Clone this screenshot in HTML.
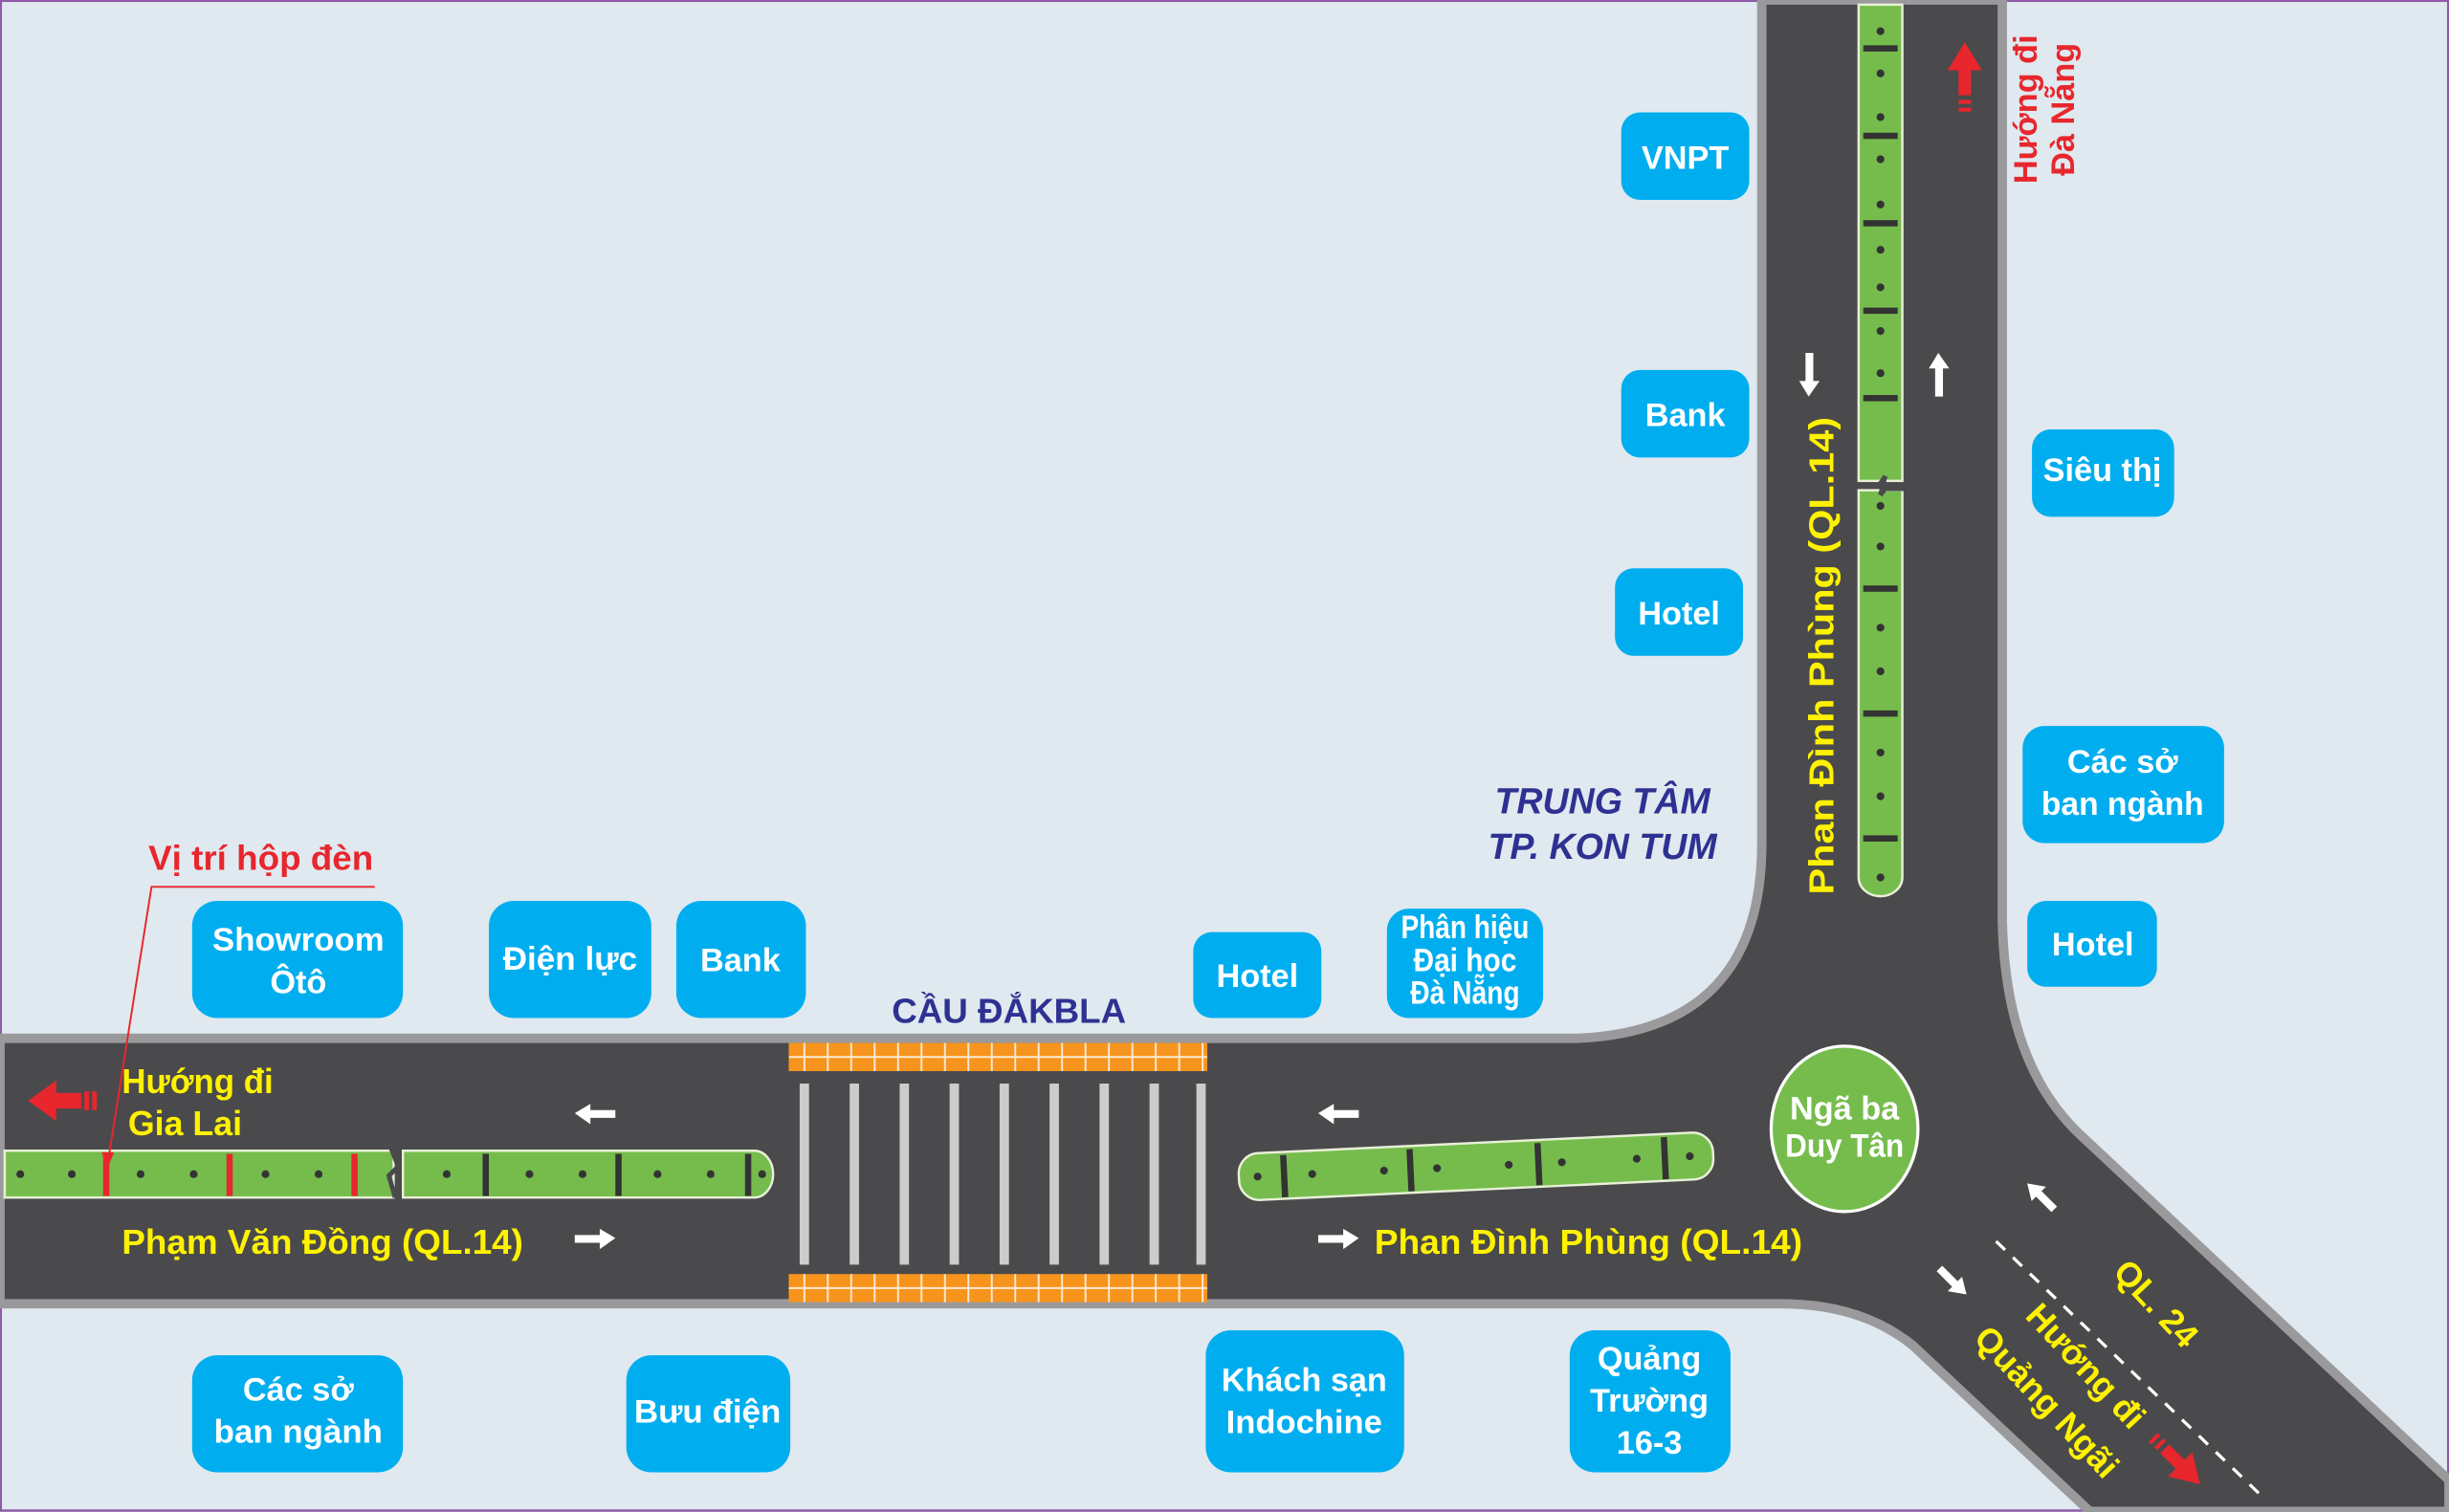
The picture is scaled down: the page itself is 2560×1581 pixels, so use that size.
<!DOCTYPE html>
<html><head><meta charset="utf-8"><style>
html,body{margin:0;padding:0;background:#dfe9ef}
svg{display:block}
text{font-family:"Liberation Sans",sans-serif;font-weight:bold}
.b{fill:#00aeef}
.w{fill:#fff;font-size:21px;text-anchor:middle}
.y{fill:#fff200;font-size:22px}
</style></head><body>
<svg width="2560" height="1581" viewBox="0 0 1568 968.4" preserveAspectRatio="none" xmlns="http://www.w3.org/2000/svg">
<rect x="0.5" y="0.5" width="1567" height="967" fill="#dfe9ef" stroke="#8e5aa6" stroke-width="1.5"/>
<path d="M0,665 L1010,665 Q1128,660 1128,540 L1128,0 L1282,0 L1282,590 Q1284,680 1330,725 L1568,948 L1568,968 L1338,968 L1225,862 Q1192,835 1140,835 L0,835 Z" fill="#4a4a4c" stroke="#9a9a9c" stroke-width="6"/>
<rect x="505" y="668" width="268" height="18" fill="#f7941d"/>
<rect x="505" y="816" width="268" height="18" fill="#f7941d"/>
<g stroke="#fff" stroke-width="1.2" opacity="0.8">
<path d="M505,677H773M505,825H773"/>
<path d="M515,668v18M530,668v18M545,668v18M560,668v18M575,668v18M590,668v18M605,668v18M620,668v18M635,668v18M650,668v18M665,668v18M680,668v18M695,668v18M710,668v18M725,668v18M740,668v18M755,668v18M770,668v18"/>
<path d="M515,816v18M530,816v18M545,816v18M560,816v18M575,816v18M590,816v18M605,816v18M620,816v18M635,816v18M650,816v18M665,816v18M680,816v18M695,816v18M710,816v18M725,816v18M740,816v18M755,816v18M770,816v18"/>
</g>
<g fill="#ccc"><rect x="512" y="694" width="6" height="116"/><rect x="544" y="694" width="6" height="116"/><rect x="576" y="694" width="6" height="116"/><rect x="608" y="694" width="6" height="116"/><rect x="640" y="694" width="6" height="116"/><rect x="672" y="694" width="6" height="116"/><rect x="704" y="694" width="6" height="116"/><rect x="736" y="694" width="6" height="116"/><rect x="766" y="694" width="6" height="116"/></g>
<g stroke="#e8f0d8" stroke-width="1.5" fill="#76bc4d">
<rect x="3" y="737" width="249" height="30"/>
<path d="M258,737 H483 A12,15 0 0 1 483,767 H258 Z"/>
</g>
<path d="M254,737 l-3,0 l4,10 l-6,6 l4,14" stroke="#4a4a4c" stroke-width="3" fill="none"/>
<g fill="#e8262d"><rect x="66" y="739" width="4" height="27"/><rect x="145" y="739" width="4" height="27"/><rect x="225" y="739" width="4" height="27"/></g>
<g fill="#333"><rect x="309" y="739" width="4" height="27"/><rect x="394" y="739" width="4" height="27"/><rect x="477" y="739" width="4" height="27"/>
<circle cx="13" cy="752" r="2.5"/><circle cx="46" cy="752" r="2.5"/><circle cx="90" cy="752" r="2.5"/><circle cx="124" cy="752" r="2.5"/><circle cx="170" cy="752" r="2.5"/><circle cx="204" cy="752" r="2.5"/><circle cx="286" cy="752" r="2.5"/><circle cx="339" cy="752" r="2.5"/><circle cx="373" cy="752" r="2.5"/><circle cx="421" cy="752" r="2.5"/><circle cx="455" cy="752" r="2.5"/><circle cx="488" cy="752" r="2.5"/></g>
<g transform="rotate(-2.7 945 746)">
<rect x="793" y="732" width="304" height="30" rx="13" fill="#76bc4d" stroke="#e8f0d8" stroke-width="1.5"/>
<g fill="#333"><rect x="820" y="734" width="4" height="27"/><rect x="901" y="734" width="4" height="27"/><rect x="983" y="734" width="4" height="27"/><rect x="1064" y="734" width="4" height="27"/>
<circle cx="805" cy="747" r="2.5"/><circle cx="840" cy="747" r="2.5"/><circle cx="886" cy="747" r="2.5"/><circle cx="920" cy="747" r="2.5"/><circle cx="966" cy="747" r="2.5"/><circle cx="1000" cy="747" r="2.5"/><circle cx="1048" cy="747" r="2.5"/><circle cx="1082" cy="747" r="2.5"/></g></g>
<g fill="#76bc4d" stroke="#e8f0d8" stroke-width="1.5">
<rect x="1190" y="3" width="28" height="305"/>
<path d="M1190,314 H1218 V562 A14,12 0 0 1 1190,562 Z"/>
</g>
<path d="M1189,311 h14 l4,-6 l-3,12 l3,-4 h14" stroke="#4a4a4c" stroke-width="3" fill="none"/>
<g fill="#333">
<rect x="1193" y="29" width="22" height="4"/><rect x="1193" y="85" width="22" height="4"/><rect x="1193" y="141" width="22" height="4"/><rect x="1193" y="197" width="22" height="4"/><rect x="1193" y="253" width="22" height="4"/><rect x="1193" y="375" width="22" height="4"/><rect x="1193" y="455" width="22" height="4"/><rect x="1193" y="535" width="22" height="4"/>
<circle cx="1204" cy="20" r="2.5"/><circle cx="1204" cy="47" r="2.5"/><circle cx="1204" cy="75" r="2.5"/><circle cx="1204" cy="102" r="2.5"/><circle cx="1204" cy="131" r="2.5"/><circle cx="1204" cy="160" r="2.5"/><circle cx="1204" cy="184" r="2.5"/><circle cx="1204" cy="212" r="2.5"/><circle cx="1204" cy="239" r="2.5"/><circle cx="1204" cy="324" r="2.5"/><circle cx="1204" cy="350" r="2.5"/><circle cx="1204" cy="402" r="2.5"/><circle cx="1204" cy="430" r="2.5"/><circle cx="1204" cy="482" r="2.5"/><circle cx="1204" cy="510" r="2.5"/><circle cx="1204" cy="562" r="2.5"/></g>
<ellipse cx="1181" cy="723" rx="47" ry="53" fill="#76bc4d" stroke="#fff" stroke-width="2"/>
<text x="1181" y="717" class="w" font-size="18" textLength="70" lengthAdjust="spacingAndGlyphs">Ngã ba</text>
<text x="1181" y="741" class="w" font-size="18" textLength="76" lengthAdjust="spacingAndGlyphs">Duy Tân</text>
<path d="M1278,795 L1450,960" stroke="#fff" stroke-width="2" stroke-dasharray="8,7"/>
<g fill="#fff">
<path d="M368,713 l10,-6 v4 h16 v5 h-16 v4 z"/>
<path d="M844,713 l10,-6 v4 h16 v5 h-16 v4 z"/>
<path d="M394,793 l-10,-6 v4 h-16 v5 h16 v4 z"/>
<path d="M870,793 l-10,-6 v4 h-16 v5 h16 v4 z"/>
<path d="M1158,254 l-6,-10 h4 v-18 h5 v18 h4 z"/>
<path d="M1241,226 l-6,10 h4 v18 h5 v-18 h4 z"/>
<g transform="rotate(-45 1305 765)"><path d="M1305,755 l-6,10 h4 v14 h5 v-14 h4 z"/></g>
<g transform="rotate(135 1252 822)"><path d="M1252,812 l-6,10 h4 v14 h5 v-14 h4 z"/></g>
</g>
<g fill="#e8262d">
<path d="M18,705 l18,-13 v8 h16 v10 h-16 v8 z"/><rect x="54" y="699" width="3" height="12"/><rect x="59" y="699" width="3" height="12"/>
<path d="M1258,27 l-11,18 h7 v16 h8 v-16 h7 z"/><rect x="1254" y="64" width="8" height="2.5"/><rect x="1254" y="69" width="8" height="2.5"/>
<g transform="rotate(135 1398 940)"><path d="M1398,925 l-11,18 h7 v14 h8 v-14 h7 z"/><rect x="1394" y="960" width="8" height="2.5"/><rect x="1394" y="965" width="8" height="2.5"/></g>
</g>
<text x="78" y="700" class="y" font-size="21" textLength="97" lengthAdjust="spacingAndGlyphs">Hướng đi</text>
<text x="82" y="727" class="y" font-size="21" textLength="73" lengthAdjust="spacingAndGlyphs">Gia Lai</text>
<text x="78" y="803" class="y" textLength="257" lengthAdjust="spacingAndGlyphs">Phạm Văn Đồng (QL.14)</text>
<text x="880" y="803" class="y" textLength="274" lengthAdjust="spacingAndGlyphs">Phan Đình Phùng (QL.14)</text>
<text transform="translate(1174,420) rotate(-90)" class="y" text-anchor="middle" textLength="306" lengthAdjust="spacingAndGlyphs">Phan Đình Phùng (QL.14)</text>
<text transform="translate(1375,840) rotate(47)" class="y" text-anchor="middle">QL. 24</text>
<text transform="translate(1330,880) rotate(47)" class="y" text-anchor="middle">Hướng đi</text>
<text transform="translate(1305,903) rotate(47)" class="y" text-anchor="middle">Quảng Ngãi</text>
<text transform="translate(1304,70) rotate(-90)" fill="#e8262d" font-size="21" text-anchor="middle">Hướng đi</text>
<text transform="translate(1328,70) rotate(-90)" fill="#e8262d" font-size="21" text-anchor="middle">Đà Nẵng</text>
<text x="95" y="557" fill="#e8262d" font-size="22" textLength="144" lengthAdjust="spacingAndGlyphs">Vị trí hộp đèn</text>
<path d="M240,568 H97 L69,745" stroke="#e8262d" stroke-width="1.2" fill="none"/>
<path d="M69,748 l-4,-10 h8 z" fill="#e8262d"/>
<text x="646" y="655" fill="#2e3192" font-size="22" text-anchor="middle" textLength="150" lengthAdjust="spacingAndGlyphs">CẦU ĐẮKBLA</text>
<text x="1026" y="521" fill="#2e3192" font-size="23" font-style="italic" text-anchor="middle">TRUNG TÂM</text>
<text x="1026" y="550" fill="#2e3192" font-size="23" font-style="italic" text-anchor="middle">TP. KON TUM</text>
<rect class="b" x="1038" y="72" width="82" height="56" rx="12"/><text x="1079" y="108" class="w">VNPT</text>
<rect class="b" x="1038" y="237" width="82" height="56" rx="12"/><text x="1079" y="273" class="w">Bank</text>
<rect class="b" x="1034" y="364" width="82" height="56" rx="12"/><text x="1075" y="400" class="w">Hotel</text>
<rect class="b" x="1301" y="275" width="91" height="56" rx="12"/><text x="1346" y="308" class="w">Siêu thị</text>
<rect class="b" x="1295" y="465" width="129" height="75" rx="14"/><text x="1359" y="495" class="w">Các sở</text><text x="1359" y="522" class="w" textLength="104" lengthAdjust="spacingAndGlyphs">ban ngành</text>
<rect class="b" x="1298" y="577" width="83" height="55" rx="12"/><text x="1340" y="612" class="w">Hotel</text>
<rect class="b" x="123" y="577" width="135" height="75" rx="16"/><text x="191" y="609" class="w" textLength="110" lengthAdjust="spacingAndGlyphs">Showroom</text><text x="191" y="636" class="w">Ôtô</text>
<rect class="b" x="313" y="577" width="104" height="75" rx="16"/><text x="365" y="621" class="w" textLength="86" lengthAdjust="spacingAndGlyphs">Điện lực</text>
<rect class="b" x="433" y="577" width="83" height="75" rx="16"/><text x="474" y="622" class="w">Bank</text>
<rect class="b" x="764" y="597" width="82" height="55" rx="12"/><text x="805" y="632" class="w">Hotel</text>
<rect class="b" x="888" y="582" width="100" height="70" rx="14"/><text x="938" y="601" class="w" font-size="16" textLength="82" lengthAdjust="spacingAndGlyphs">Phân hiệu</text><text x="938" y="622" class="w" font-size="16" textLength="66" lengthAdjust="spacingAndGlyphs">Đại học</text><text x="938" y="643" class="w" font-size="16" textLength="70" lengthAdjust="spacingAndGlyphs">Đà Nẵng</text>
<rect class="b" x="123" y="868" width="135" height="75" rx="16"/><text x="191" y="897" class="w">Các sở</text><text x="191" y="924" class="w" textLength="108" lengthAdjust="spacingAndGlyphs">ban ngành</text>
<rect class="b" x="401" y="868" width="105" height="75" rx="16"/><text x="453" y="911" class="w" textLength="94" lengthAdjust="spacingAndGlyphs">Bưu điện</text>
<rect class="b" x="772" y="852" width="127" height="91" rx="16"/><text x="835" y="891" class="w" textLength="106" lengthAdjust="spacingAndGlyphs">Khách sạn</text><text x="835" y="918" class="w" textLength="100" lengthAdjust="spacingAndGlyphs">Indochine</text>
<rect class="b" x="1005" y="852" width="103" height="91" rx="16"/><text x="1056" y="877" class="w">Quảng</text><text x="1056" y="904" class="w" textLength="76" lengthAdjust="spacingAndGlyphs">Trường</text><text x="1056" y="931" class="w">16-3</text>
</svg>
</body></html>
